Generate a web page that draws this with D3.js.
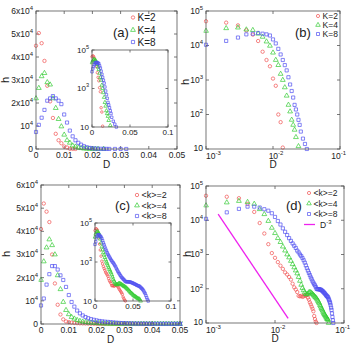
<!DOCTYPE html>
<html><head><meta charset="utf-8">
<script src="https://cdn.jsdelivr.net/npm/d3@7"></script>
<style>
body{margin:0;background:#fff}
svg{display:block}
text{font-family:"Liberation Sans",Arial,Helvetica,sans-serif;fill:#222}
</style>
</head><body>
<svg id="fig" width="352" height="345"></svg>
<script>
// ---- data: bin positions D and counts h ----
const D = [0,0.001,0.002,0.003,0.004,0.005,0.006,0.007,0.008,0.009,
  0.010,0.011,0.012,0.013,0.014,0.015,0.016,0.017,0.018,0.019,
  0.020,0.021,0.022,0.023,0.024,0.025,0.026,0.027,0.028,0.029,
  0.030,0.031,0.032,0.033,0.034,0.035,0.036,0.037,0.038,0.039,
  0.040,0.041,0.042,0.043,0.044,0.045,0.046,0.047,0.048,0.049,
  0.050,0.051,0.052,0.053,0.054,0.055,0.056,0.057,0.058,0.059,
  0.060,0.061,0.062,0.063,0.064,0.065,0.066,0.067,0.068,0.069,0.070];

// panels (a),(b): K = 2, 4, 8
const hK2 = [44900,50400,46000,38300,27500,20700,13500,6600,3800,2500,1100,680,100,60,11];
const hK4 = [22000,26500,31600,33000,29000,28000,22000,17800,13000,9800,6200,3800,2700,1500,1000,
  610,350,190,122,70,50,36,22,null,12];
const hK8 = [7400,10500,13600,17000,21000,22000,23000,22000,21000,19500,15000,11500,8000,5500,3800,
  2700,1900,1200,740,480,310,190,140,100,70,50,32,null,20,null,14,null,10];

// panels (c),(d): <k> = 2, 4, 8
const hk2 = [41000,52000,48500,44000,30000,17500,8300,4100,2000,1100,800,600,470,380,300,
  260,220,185,140,110,95,80,62,60,62,58,60,65,62,66,55,48,40,35,30,26,22,16,13,11,10];
const hk4 = [19000,27000,33000,36500,34000,30000,21000,15000,9500,6000,4200,3000,2300,1700,1300,
  1000,820,650,520,420,340,280,220,170,130,105,90,78,70,68,72,78,80,78,74,70,66,62,58,55,
  52,48,44,40,37,33,30,27,25,23,21,19,18,17,16,15,14,13,13,12,10];
const hk8 = [8000,11000,17000,21500,25000,25000,23500,21000,19000,16000,12500,9500,7500,5800,4600,
  3700,3000,2500,2100,1800,1550,1300,1150,1000,900,790,680,580,480,400,340,290,250,215,190,
  165,150,135,125,112,100,98,96,98,96,95,94,92,88,85,82,78,75,72,68,65,62,60,58,55,
  50,46,42,38,33,28,24,19,15,12,10];

// reference power law D^-3 (two end points)
const refLineD = [0.0015, 0.0155];
const refLineH = [15000, 13.6];

// tick values and labels
const linXTicks = [0,0.01,0.02,0.03,0.04,0.05];
const linXLabels = ["0","0.01","0.02","0.03","0.04","0.05"];
const linYTicks = [0,1e4,2e4,3e4,4e4,5e4,6e4];
const linYLabels = ["0","10^4","2x10^4","3x10^4","4x10^4","5x10^4","6x10^4"];
const logXTicks = [1e-3,1e-2,1e-1];
const logXLabels = ["10^-3","10^-2","10^-1"];
const logYTicks = [10,1e2,1e3,1e4,1e5];
const logYLabels = ["10","10^2","10^3","10^4","10^5"];
const insetXTicks = [0,0.05,0.1];
const insetXLabels = ["0","0.05","0.1"];
const insetYTicks = [10,1e3,1e5];
const insetYLabels = ["10","10^3","10^5"];

const legendK = ["K=2","K=4","K=8"];
const legendk = ["<k>=2","<k>=4","<k>=8"];

const colors = ["#f05050","#33cc33","#5050f0"];
const shapes = [d3.symbolCircle, d3.symbolTriangle, d3.symbolSquare];

// ---- drawing ----
const svg = d3.select("#fig");

function setLabel(sel, str, supSize) {
  const parts = str.split("^");
  sel.append("tspan").text(parts[0]);
  if (parts.length > 1) sel.append("tspan").attr("dy", -4).attr("font-size", supSize).text(parts[1]);
}

function drawAxes(g, box, xs, ys, opt) {
  const {left, right, top, bottom} = box;
  g.append("rect").attr("x", left).attr("y", top).attr("width", right-left).attr("height", bottom-top)
    .attr("fill", "#fff").attr("stroke", "none");
  const tl = opt.tickLen || 3;
  const ax = g.append("g").attr("stroke", "#555").attr("stroke-width", 0.8);
  opt.xTicks.forEach(t => {
    const x = xs(t);
    ax.append("line").attr("x1", x).attr("x2", x).attr("y1", bottom).attr("y2", bottom - tl);
    ax.append("line").attr("x1", x).attr("x2", x).attr("y1", top).attr("y2", top + tl);
  });
  opt.yTicks.forEach(t => {
    const y = ys(t);
    ax.append("line").attr("y1", y).attr("y2", y).attr("x1", left).attr("x2", left + tl);
    ax.append("line").attr("y1", y).attr("y2", y).attr("x1", right).attr("x2", right - tl);
  });
  const fs = opt.fontSize || 8.5;
  const n = opt.xTicks.length;
  opt.xTicks.forEach((t, i) => {
    let anchor = "middle", dx = 0;
    if (opt.logX) {
      if (i === 0) { anchor = "start"; dx = 0; }
      else if (i === n - 1) { anchor = "end"; dx = 6; }
      else { dx = 3; }
    }
    const tx = g.append("text")
      .attr("x", xs(t) + dx)
      .attr("y", bottom + fs + (opt.logX ? 1 : 0))
      .attr("text-anchor", anchor).attr("font-size", fs);
    setLabel(tx, opt.xLabels[i], fs * 0.7);
  });
  opt.yTicks.forEach((t, i) => {
    const tx = g.append("text").attr("x", left - 3).attr("y", ys(t) + fs * 0.35 - (opt.logX && i === 0 ? 1 : 0))
      .attr("text-anchor", "end").attr("font-size", fs);
    setLabel(tx, opt.yLabels[i], fs * 0.7);
  });
}

function frame(g, box) {
  g.append("rect").attr("x", box.left).attr("y", box.top)
    .attr("width", box.right - box.left).attr("height", box.bottom - box.top)
    .attr("fill", "none").attr("stroke", "#555").attr("stroke-width", 0.8);
}

let clipCount = 0;
function drawSeries(g, xs, ys, hs, opt) {
  const clipId = "clip" + (clipCount++);
  const b = opt.box;
  g.append("clipPath").attr("id", clipId).append("rect")
    .attr("x", b.left - 2.5).attr("y", b.top - 2.5)
    .attr("width", b.right - b.left + 5).attr("height", b.bottom - b.top + 5);
  const layer = g.append("g").attr("clip-path", `url(#${clipId})`);
  hs.forEach((h, si) => {
    const pts = [];
    h.forEach((v, i) => {
      if (v == null) return;
      if (opt.logX && D[i] <= 0) return;
      if (opt.logY && v < opt.yMin) return;
      pts.push([D[i], v]);
    });
    const sym = d3.symbol().type(shapes[si]).size(opt.size[si]);
    layer.append("g").selectAll("path").data(pts).join("path")
      .attr("d", sym)
      .attr("transform", d => `translate(${xs(d[0])},${ys(d[1])})`)
      .attr("fill", "none").attr("stroke", colors[si]).attr("stroke-width", 0.7);
  });
}

function legend(g, items, x, ys, fs, sizes) {
  items.forEach((t, i) => {
    g.append("path").attr("d", d3.symbol().type(shapes[i]).size(sizes[i]))
      .attr("transform", `translate(${x},${ys[i]})`)
      .attr("fill", "none").attr("stroke", colors[i]).attr("stroke-width", 0.7);
    g.append("text").attr("x", x + 4.5).attr("y", ys[i] + fs * 0.36).attr("font-size", fs).text(t);
  });
}

function axisTitles(g, box, hx, hy, dy) {
  g.append("text").attr("transform", `translate(${hx},${hy}) rotate(-90)`)
    .attr("text-anchor", "middle").attr("font-size", 11).text("h");
  g.append("text").attr("x", (box.left + box.right) / 2).attr("y", dy)
    .attr("text-anchor", "middle").attr("font-size", 10).text("D");
}

const mainSize = [9, 10, 10];
const insetSize = [5, 6, 6];

// ---- panel (a) ----
{
  const box = {left: 36, right: 177, top: 11, bottom: 149};
  const g = svg.append("g");
  const xs = d3.scaleLinear().domain([0, 0.05]).range([box.left, box.right]);
  const ys = d3.scaleLinear().domain([0, 6e4]).range([box.bottom, box.top]);
  drawAxes(g, box, xs, ys, {xTicks: linXTicks, xLabels: linXLabels, yTicks: linYTicks, yLabels: linYLabels});
  drawSeries(g, xs, ys, [hK2, hK4, hK8], {box, size: mainSize});
  frame(g, box);
  axisTitles(g, box, 9, 80, 168);
  legend(g, legendK, 133, [17.5, 30, 42], 10, mainSize);
  g.append("text").attr("x", 113).attr("y", 37).attr("font-size", 13).text("(a)");
  // inset
  const ib = {left: 92, right: 168, top: 50, bottom: 127};
  const ixs = d3.scaleLinear().domain([0, 0.1]).range([ib.left, ib.right]);
  const iys = d3.scaleLog().domain([10, 1e5]).range([ib.bottom, ib.top]);
  drawAxes(g, ib, ixs, iys, {xTicks: insetXTicks, xLabels: insetXLabels, yTicks: insetYTicks, yLabels: insetYLabels, fontSize: 8, tickLen: 2.5});
  drawSeries(g, ixs, iys, [hK2, hK4, hK8], {box: ib, size: insetSize, logY: true, yMin: 10});
  frame(g, ib);
}

// ---- panel (b) ----
{
  const box = {left: 206, right: 340, top: 11, bottom: 149};
  const g = svg.append("g");
  const xs = d3.scaleLog().domain([1e-3, 1e-1]).range([box.left, box.right]);
  const ys = d3.scaleLog().domain([10, 1e5]).range([box.bottom, box.top]);
  drawAxes(g, box, xs, ys, {xTicks: logXTicks, xLabels: logXLabels, yTicks: logYTicks, yLabels: logYLabels, logX: true});
  drawSeries(g, xs, ys, [hK2, hK4, hK8], {box, size: mainSize, logX: true, logY: true, yMin: 10});
  frame(g, box);
  axisTitles(g, box, 189, 82, 168);
  legend(g, legendK, 318, [16, 25, 34], 8.5, [8, 9, 9]);
  g.append("text").attr("x", 295).attr("y", 37).attr("font-size", 13).text("(b)");
}

// ---- panel (c) ----
{
  const box = {left: 41, right: 180, top: 185, bottom: 324};
  const g = svg.append("g");
  const xs = d3.scaleLinear().domain([0, 0.05]).range([box.left, box.right]);
  const ys = d3.scaleLinear().domain([0, 6e4]).range([box.bottom, box.top]);
  drawAxes(g, box, xs, ys, {xTicks: linXTicks, xLabels: linXLabels, yTicks: linYTicks, yLabels: linYLabels});
  drawSeries(g, xs, ys, [hk2, hk4, hk8], {box, size: mainSize});
  frame(g, box);
  axisTitles(g, box, 10, 254, 343);
  legend(g, legendk, 137, [195, 205.5, 216], 9, mainSize);
  g.append("text").attr("x", 115).attr("y", 210).attr("font-size", 13).text("(c)");
  const ib = {left: 95, right: 171, top: 223, bottom: 301};
  const ixs = d3.scaleLinear().domain([0, 0.1]).range([ib.left, ib.right]);
  const iys = d3.scaleLog().domain([10, 1e5]).range([ib.bottom, ib.top]);
  drawAxes(g, ib, ixs, iys, {xTicks: insetXTicks, xLabels: insetXLabels, yTicks: insetYTicks, yLabels: insetYLabels, fontSize: 8, tickLen: 2.5});
  drawSeries(g, ixs, iys, [hk2, hk4, hk8], {box: ib, size: insetSize, logY: true, yMin: 10});
  frame(g, ib);
}

// ---- panel (d) ----
{
  const box = {left: 206, right: 344, top: 186, bottom: 323};
  const g = svg.append("g");
  const xs = d3.scaleLog().domain([1e-3, 1e-1]).range([box.left, box.right]);
  const ys = d3.scaleLog().domain([10, 1e5]).range([box.bottom, box.top]);
  drawAxes(g, box, xs, ys, {xTicks: logXTicks, xLabels: logXLabels, yTicks: logYTicks, yLabels: logYLabels, logX: true});
  drawSeries(g, xs, ys, [hk2, hk4, hk8], {box, size: mainSize, logX: true, logY: true, yMin: 10});
  g.append("line")
    .attr("x1", xs(refLineD[0])).attr("y1", ys(refLineH[0]))
    .attr("x2", xs(refLineD[1])).attr("y2", ys(refLineH[1]))
    .attr("stroke", "#ee22ee").attr("stroke-width", 1.3);
  frame(g, box);
  axisTitles(g, box, 191, 254, 342);
  legend(g, legendk, 309, [193, 203.5, 214], 8.5, [8, 9, 9]);
  g.append("line").attr("x1", 304).attr("x2", 315).attr("y1", 224.5).attr("y2", 224.5)
    .attr("stroke", "#ee22ee").attr("stroke-width", 1.3);
  const t = g.append("text").attr("x", 320).attr("y", 227.5).attr("font-size", 8.5);
  setLabel(t, "D^-3", 6);
  g.append("text").attr("x", 286).attr("y", 210).attr("font-size", 13).text("(d)");
}
</script>
</body></html>
